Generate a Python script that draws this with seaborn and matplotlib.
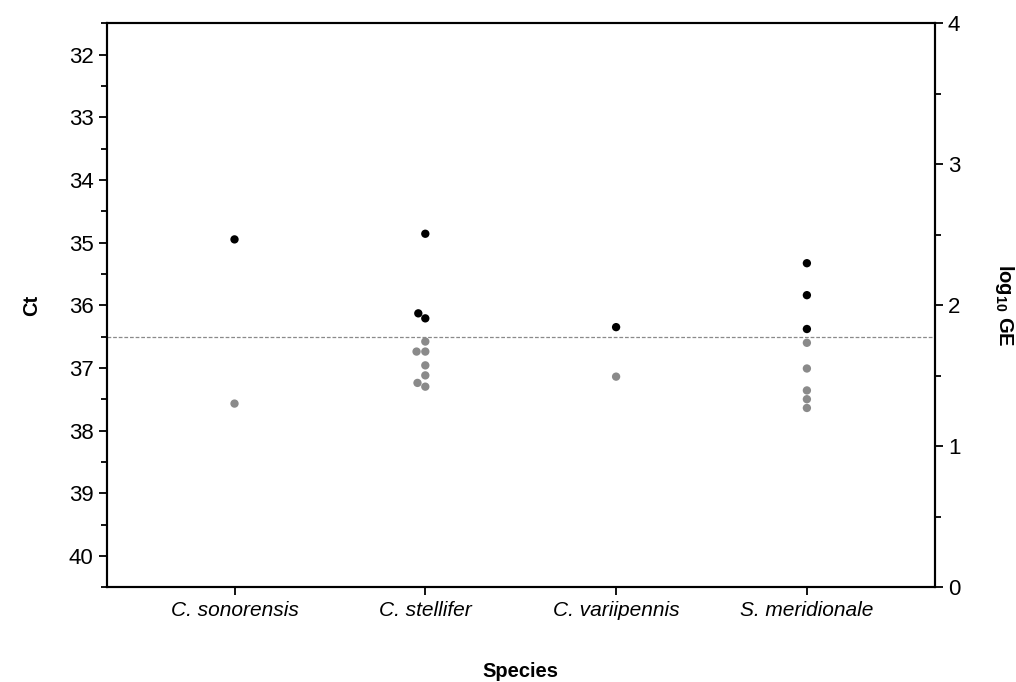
import numpy as np
import pandas as pd
import matplotlib
matplotlib.use('Agg')
import matplotlib.pyplot as plt
from matplotlib.ticker import MultipleLocator
import seaborn as sns

# Data (Ct per sample)
species = ['C. sonorensis', 'C. stellifer', 'C. variipennis', 'S. meridionale']
ct_sonorensis = [34.95, 37.57]
ct_stellifer = [34.86, 36.21, 36.13, 36.58, 36.74, 36.74, 36.96, 37.12, 37.30, 37.24]
ct_variipennis = [36.35, 37.14]
ct_meridionale = [35.33, 35.84, 36.38, 36.60, 37.01, 37.36, 37.50, 37.64]
cutoff = 36.5

ct_values = [ct_sonorensis, ct_stellifer, ct_variipennis, ct_meridionale]
rows = []
for sp, vals in zip(species, ct_values):
    for v in vals:
        rows.append({'Species': sp, 'Ct': v, 'positive': v < cutoff})
df = pd.DataFrame(rows)

sns.set_style('ticks')
plt.rcParams['font.family'] = ['Liberation Sans', 'DejaVu Sans']
plt.rcParams['mathtext.fontset'] = 'custom'
plt.rcParams['mathtext.bf'] = 'Liberation Sans:bold'
plt.rcParams['mathtext.rm'] = 'Liberation Sans'
for k in ['text.color', 'axes.labelcolor', 'xtick.color', 'ytick.color', 'axes.edgecolor']:
    plt.rcParams[k] = 'black'

fig, ax = plt.subplots(figsize=(10.16, 6.82), dpi=100)
fig.subplots_adjust(left=0.105, right=0.92, top=0.966, bottom=0.139)

sns.swarmplot(data=df, x='Species', y='Ct', hue='positive', order=species,
              palette={True: 'black', False: '#8a8a8a'}, size=6.0,
              legend=False, ax=ax, zorder=3, warn_thresh=1)

ax.axhline(cutoff, color='#8a8a8a', lw=0.9, ls=(0, (3, 1.5)), zorder=2)

ax.set_ylim(40.5, 31.5)
ax.set_xlim(-0.67, 3.67)
ax.yaxis.set_major_locator(MultipleLocator(1))
ax.yaxis.set_minor_locator(MultipleLocator(0.5))
ax.set_ylabel('Ct', fontsize=14.5, fontweight='bold', labelpad=20)
ax.set_xlabel('Species', fontsize=14.5, fontweight='bold', labelpad=30)
ax.tick_params(axis='y', which='major', direction='out', length=6, width=1.3, labelsize=16)
ax.tick_params(axis='y', which='minor', direction='out', length=4, width=1.3)
ax.tick_params(axis='x', direction='out', length=6, width=1.3, labelsize=15, pad=4)
for lbl in ax.get_xticklabels():
    lbl.set_fontstyle('italic')

for s in ax.spines.values():
    s.set_visible(True)
    s.set_linewidth(1.5)
    s.set_color('black')

ax2 = ax.twinx()
ax2.set_ylim(0, 4)
ax2.yaxis.set_major_locator(MultipleLocator(1))
ax2.yaxis.set_minor_locator(MultipleLocator(0.5))
ax2.tick_params(axis='y', which='major', direction='out', length=6, width=1.3, labelsize=16)
ax2.tick_params(axis='y', which='minor', direction='out', length=4, width=1.3)
ax2.set_ylabel(r'$\mathbf{log_{10}}$ GE', fontsize=14.5, fontweight='bold',
               rotation=270, labelpad=40)
for s in ax2.spines.values():
    s.set_linewidth(1.5)
    s.set_color('black')

fig.savefig('out.png', dpi=100)
